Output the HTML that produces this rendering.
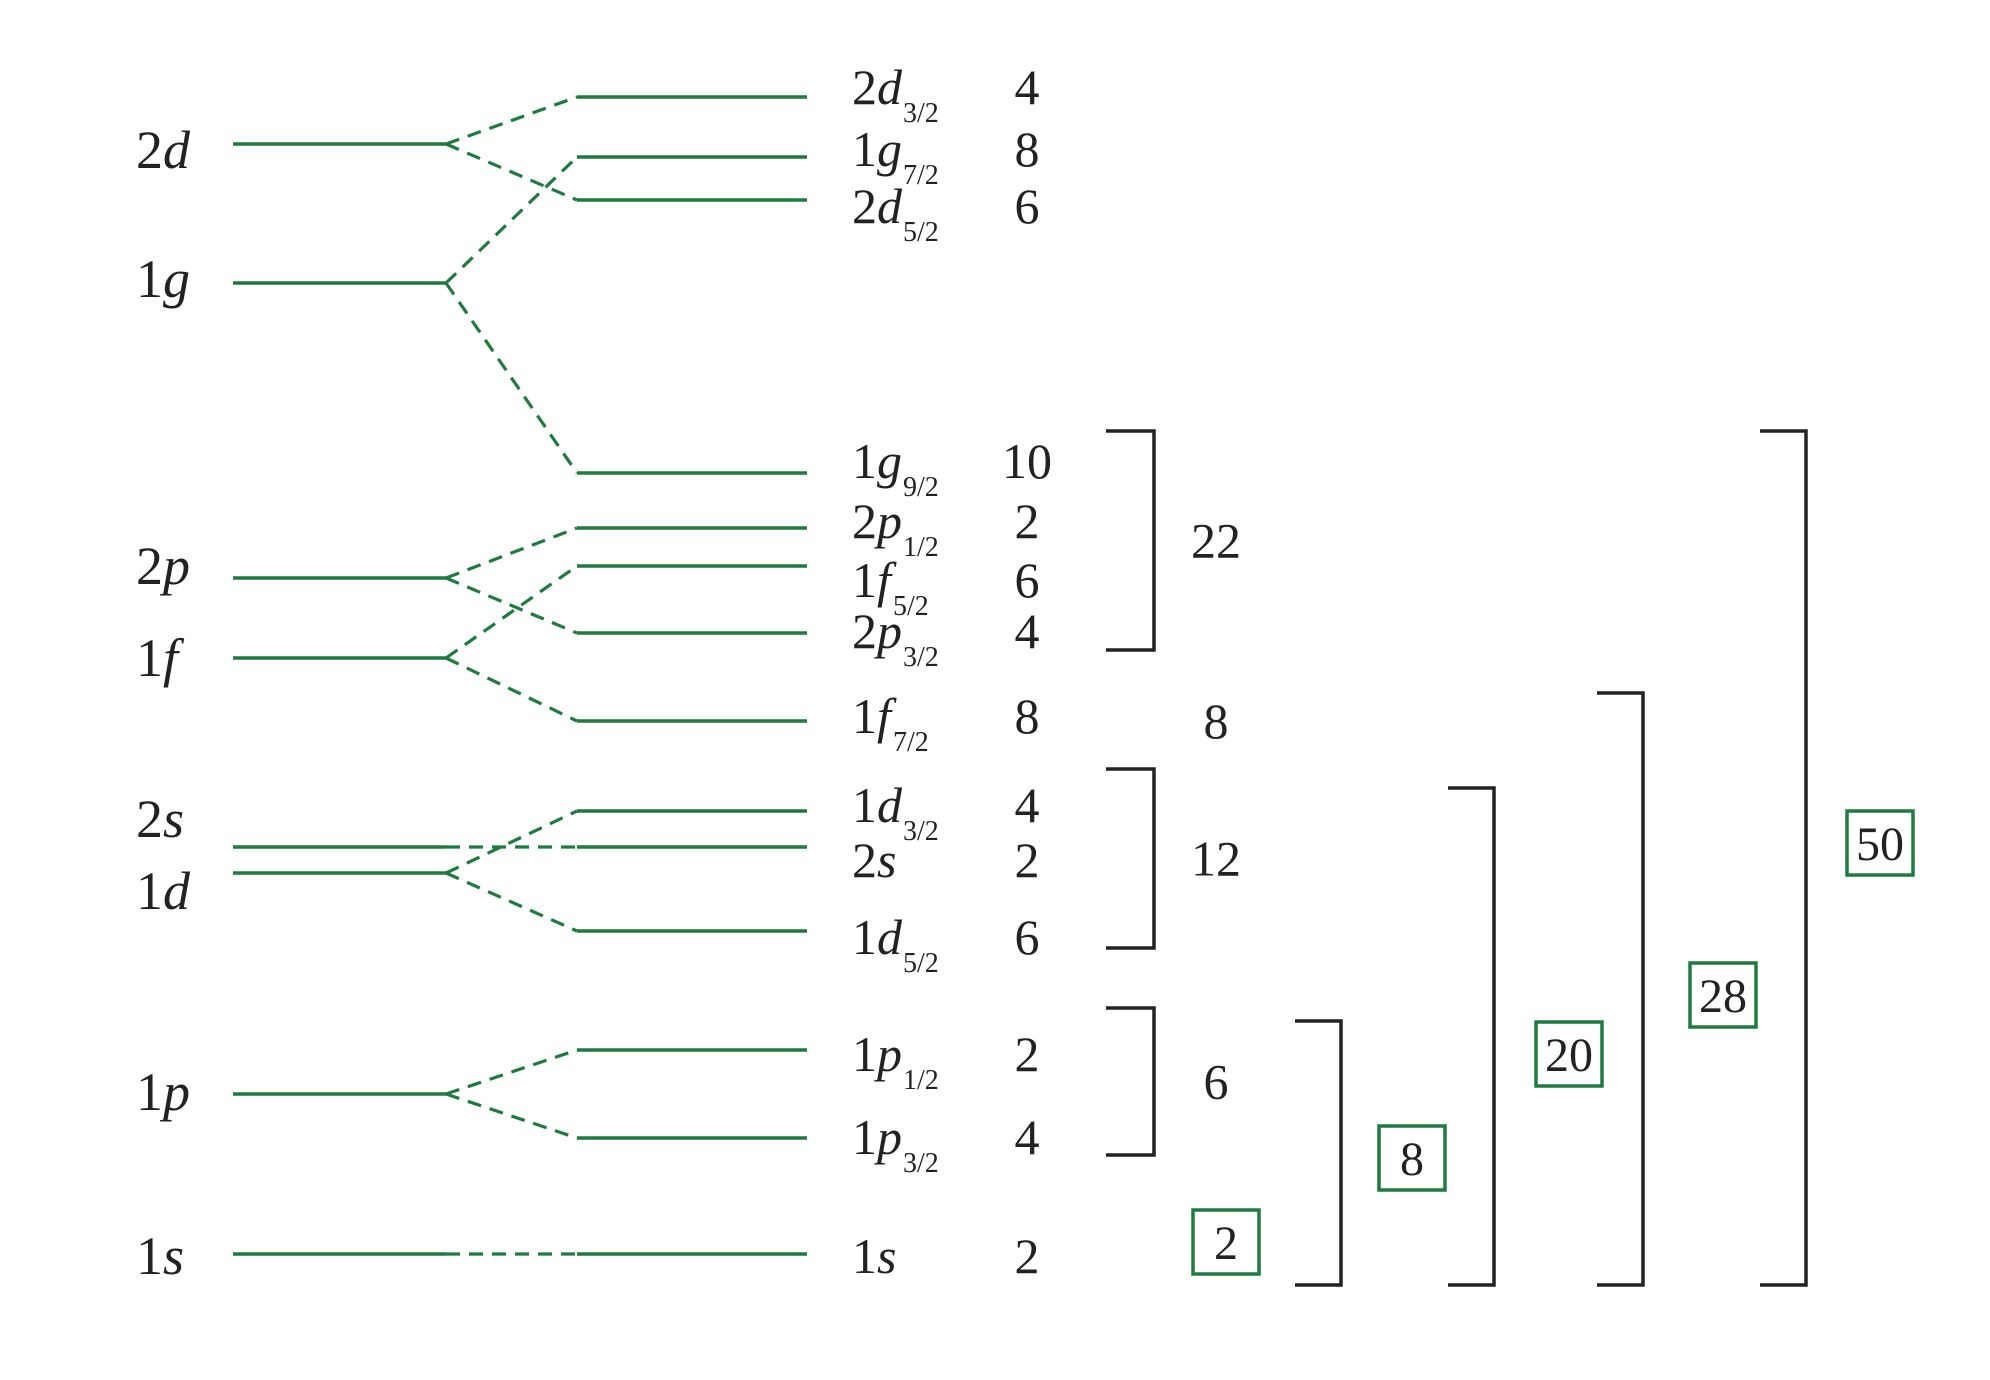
<!DOCTYPE html>
<html><head><meta charset="utf-8"><style>
html,body{margin:0;padding:0;background:#fff;}
svg{display:block;}
text{font-family:"Liberation Serif",serif;fill:#222;}
</style></head><body>
<svg id="chart" width="1990" height="1380" viewBox="0 0 1990 1380" xmlns="http://www.w3.org/2000/svg"></svg>
<script>
// ---- data ----
const leftNames = ["2d","1g","2p","1f","2s","1d","1p","1s"];
const leftEnergy = [111, 97.1, 67.6, 59.6, 40.7, 38.1, 16, 0];
const leftLabelDy = [24, 14, 6, 18, -10, 36, 16, 20];
const rightMain = ["2d","1g","2d","1g","2p","1f","2p","1f","1d","2s","1d","1p","1p","1s"];
const rightSub = ["3/2","7/2","5/2","9/2","1/2","5/2","3/2","7/2","3/2","","5/2","1/2","3/2",""];
const rightEnergy = [115.7, 109.7, 105.4, 78.1, 72.6, 68.8, 62.1, 53.3, 44.3, 40.7, 32.3, 20.4, 11.6, 0];
const rightParent = [0, 1, 0, 1, 2, 3, 2, 3, 5, 4, 5, 6, 6, 7];
const degeneracy = ["4","8","6","10","2","6","4","8","4","2","6","2","4","2"];
const rightDy = [7, 9, 23, 5, 10, 31, 15, 12, 11, 30, 23, 21, 16, 19];
const groupTop = [3, 7, 8, 11];
const groupBottom = [6, 7, 10, 12];
const groupSum = ["22","8","12","6"];
const groupBracket = [true, false, true, true];
const magicNumbers = ["2","8","20","28","50"];
const magicTop = [13, 11, 8, 7, 3];
// ---- scales ----
const y0 = 1254, k = 10;
function yScale(e){ return y0 - e * k; }
const svg = document.getElementById('chart');
const NS = "http://www.w3.org/2000/svg";
const GREEN = "#1f7a3e";
function mk(tag, attrs){ const el = document.createElementNS(NS, tag); for (const a in attrs) el.setAttribute(a, attrs[a]); svg.appendChild(el); return el; }

leftNames.forEach((n, i) => {
  const y = yScale(leftEnergy[i]);
  const ln = mk('line', {x1:233, x2:446, y1:y, y2:y, stroke:GREEN, 'stroke-width':3.5});
  
  
  const t = mk('text', {x:136, y:y + leftLabelDy[i], 'font-size':54});
  
  
  const d = document.createElementNS(NS, 'tspan'); d.textContent = n[0]; t.appendChild(d);
  const l = document.createElementNS(NS, 'tspan'); l.setAttribute('font-style','italic'); l.textContent = n.slice(1); t.appendChild(l);
});

rightMain.forEach((n, i) => {
  const y = yScale(rightEnergy[i]);
  const py = yScale(leftEnergy[rightParent[i]]);
  const c = mk('line', {x1:446, x2:577, y1:py, y2:y, stroke:GREEN, 'stroke-width':3.2, 'stroke-dasharray':'14 9'});
  
  
  const ln = mk('line', {x1:577, x2:807, y1:y, y2:y, stroke:GREEN, 'stroke-width':3.5});
  
  
  const by = y + rightDy[i];
  const t = mk('text', {x:852, y:by, 'font-size':50});
  
  
  const d = document.createElementNS(NS, 'tspan'); d.textContent = n[0]; t.appendChild(d);
  const l = document.createElementNS(NS, 'tspan'); l.setAttribute('font-style','italic'); l.textContent = n.slice(1); t.appendChild(l);
  if (rightSub[i]) {
    const s = mk('text', {x:(n[1]==='f' ? 893 : 903), y:by + 18, 'font-size':28});
    s.textContent = rightSub[i];
    
    
  }
  const dg = mk('text', {x:1027, y:by, 'font-size':50, 'text-anchor':'middle'});
  dg.textContent = degeneracy[i];
  
  
});

groupSum.forEach((s, g) => {
  const yt = yScale(rightEnergy[groupTop[g]]) - 42;
  const yb = yScale(rightEnergy[groupBottom[g]]) + 17;
  if (groupBracket[g]) {
    const p = mk('path', {d:`M1106 ${yt} H1154 V${yb} H1106`, fill:'none', stroke:'#222', 'stroke-width':3.5});
    
    
  }
  const t = mk('text', {x:1216, y:(groupBracket[g] ? (yt+yb)/2 : yScale(rightEnergy[groupTop[g]])) + 17, 'font-size':50, 'text-anchor':'middle'});
  t.textContent = s;
  
  
});

const bx = [null, 1295, 1448, 1597, 1760];
const bPad = [0, 29, 23, 28, 42];
const boxX = [1226, 1412, 1569, 1723, 1880];
const boxY = [1242, 1158, 1054, 995, 843];
magicNumbers.forEach((m, i) => {
  if (i > 0) {
    const yt = yScale(rightEnergy[magicTop[i]]) - bPad[i];
    const p = mk('path', {d:`M${bx[i]} ${yt} H${bx[i]+46} V1285 H${bx[i]}`, fill:'none', stroke:'#222', 'stroke-width':3.5});
    
    
  }
  const r = mk('rect', {x:boxX[i]-33, y:boxY[i]-32, width:66, height:64, fill:'#fff', stroke:GREEN, 'stroke-width':3.5});
  
  
  const t = mk('text', {x:boxX[i], y:boxY[i]+17, 'font-size':48, 'text-anchor':'middle'});
  t.textContent = m;
  
  
});
</script>
</body></html>
